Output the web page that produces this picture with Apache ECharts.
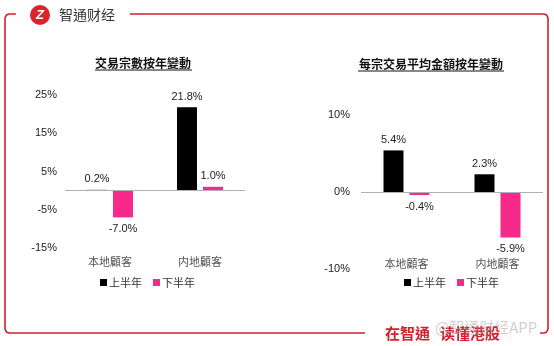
<!DOCTYPE html>
<html>
<head>
<meta charset="utf-8">
<script src="https://cdn.jsdelivr.net/npm/echarts@6/dist/echarts.min.js"></script>
<style>
  html, body { margin: 0; padding: 0; background: #fff; }
  #c { width: 554px; height: 346px; }
</style>
</head>
<body>
<div id="c"></div>
<script>
// Year-on-year change, first half vs second half
const categories = ['本地顧客', '内地顧客'];
const seriesNames = ['上半年', '下半年'];

// 交易宗數按年變動 (%)
const countFirstHalf = [0.2, 21.8];
const countSecondHalf = [-7.0, 1.0];
const countAxis = { min: -15, max: 25, interval: 10 };

// 每宗交易平均金額按年變動 (%)
const avgFirstHalf = [5.4, 2.3];
const avgSecondHalf = [-0.4, -5.9];
const avgAxis = { min: -10, max: 10, interval: 10 };

const chartTitles = ['交易宗數按年變動', '每宗交易平均金額按年變動'];

const BLACK = '#000000';
const PINK = '#f72a8c';
const RED = '#d2202e';
const LATIN = '"Liberation Sans", Arial, sans-serif';
const CJK = '"Noto Sans CJK TC", "Noto Sans CJK SC", sans-serif';

function barData(values) {
  return values.map(v => ({
    value: v,
    label: { position: v < 0 ? 'bottom' : 'top', distance: v < 0 ? 6 : 5 }
  }));
}

function barSeries(name, values, color, idx, withZeroLine) {
  const s = {
    name: name,
    type: 'bar',
    xAxisIndex: idx,
    yAxisIndex: idx,
    data: barData(values),
    barWidth: 20,
    barGap: '30%',
    itemStyle: { color: color },
    label: {
      show: true,
      color: '#222',
      fontFamily: LATIN,
      fontSize: 11,
      formatter: p => p.value.toFixed(1) + '%'
    },
    emphasis: { disabled: true },
    animation: false
  };
  if (withZeroLine) {
    s.markLine = {
      silent: true,
      symbol: 'none',
      label: { show: false },
      lineStyle: { color: '#b0b0b0', width: 1, type: 'solid' },
      data: [{ yAxis: 0 }],
      animation: false
    };
  }
  return s;
}

function yAxisFor(idx, range, margin) {
  return {
    type: 'value',
    gridIndex: idx,
    min: range.min,
    max: range.max,
    interval: range.interval,
    axisLine: { show: false },
    axisTick: { show: false },
    splitLine: { show: false },
    axisLabel: {
      margin: margin,
      color: '#222',
      fontFamily: LATIN,
      fontSize: 11,
      formatter: v => v + '%'
    }
  };
}

function xAxisFor(idx, labelMargin) {
  return {
    type: 'category',
    gridIndex: idx,
    data: categories,
    axisLine: { show: false, onZero: false },
    axisTick: { show: false },
    axisLabel: {
      margin: labelMargin,
      color: '#555',
      fontFamily: CJK,
      fontSize: 11
    }
  };
}

function legendFor(left) {
  return {
    data: seriesNames,
    left: left,
    top: 272,
    icon: 'rect',
    itemWidth: 7,
    itemHeight: 7,
    itemGap: 11,
    selectedMode: false,
    textStyle: { fontFamily: CJK, fontSize: 11, color: '#333', padding: [0, 0, 0, -3] }
  };
}

const chart = echarts.init(document.getElementById('c'), null, { renderer: 'canvas' });

const frameStyle = { stroke: RED, lineWidth: 1.6, fill: null };

chart.setOption({
  backgroundColor: '#ffffff',
  animation: false,
  grid: [
    { left: 65, top: 95, width: 180, height: 153 },
    { left: 361, top: 115, width: 182, height: 154 }
  ],
  xAxis: [xAxisFor(0, 8), xAxisFor(1, -11)],
  yAxis: [yAxisFor(0, countAxis, 8), yAxisFor(1, avgAxis, 11)],
  legend: [legendFor(95), legendFor(399)],
  series: [
    barSeries(seriesNames[0], countFirstHalf, BLACK, 0, true),
    barSeries(seriesNames[1], countSecondHalf, PINK, 0, false),
    barSeries(seriesNames[0], avgFirstHalf, BLACK, 1, true),
    barSeries(seriesNames[1], avgSecondHalf, PINK, 1, false)
  ],
  graphic: [
    // frame: left stub of the top edge, left side, bottom edge
    {
      type: 'polyline',
      shape: { points: [[16, 14], [9, 14], [6.5, 15], [5, 18], [5, 329], [6.5, 332], [9, 333], [365, 333]] },
      style: frameStyle
    },
    // frame: top edge and right side
    {
      type: 'polyline',
      shape: { points: [[130, 14], [544, 14], [546.5, 15], [548, 18], [548, 329], [546.5, 332], [544, 333], [540, 333]] },
      style: frameStyle
    },
    // brand mark
    {
      type: 'circle',
      shape: { cx: 40, cy: 15, r: 10 },
      style: { fill: '#d9232d' }
    },
    {
      type: 'text',
      x: 40, y: 15,
      style: {
        text: 'Z',
        fill: '#fff',
        font: 'italic bold 13px ' + LATIN,
        align: 'center',
        verticalAlign: 'middle'
      }
    },
    {
      type: 'text',
      x: 59, y: 15,
      style: {
        text: '智通财经',
        fill: '#333',
        font: '14px ' + CJK,
        verticalAlign: 'middle'
      }
    },
    // chart headings with underline
    {
      type: 'text', x: 143, y: 63,
      style: { text: chartTitles[0], fill: '#111', font: 'bold 12px ' + CJK, align: 'center', verticalAlign: 'middle' }
    },
    {
      type: 'line',
      shape: { x1: 95, y1: 70, x2: 192, y2: 70 },
      style: { stroke: '#111', lineWidth: 1 }
    },
    {
      type: 'text', x: 431, y: 64,
      style: { text: chartTitles[1], fill: '#111', font: 'bold 12px ' + CJK, align: 'center', verticalAlign: 'middle' }
    },
    {
      type: 'line',
      shape: { x1: 358, y1: 71, x2: 504, y2: 71 },
      style: { stroke: '#111', lineWidth: 1 }
    },
    // footer slogan and app watermark
    {
      type: 'text', x: 385, y: 333,
      style: { text: '在智通', fill: '#d2202e', font: 'bold 15px ' + CJK, verticalAlign: 'middle' }
    },
    {
      type: 'text', x: 440, y: 333,
      style: { text: '读懂港股', fill: '#d2202e', font: 'bold 15px ' + CJK, verticalAlign: 'middle' }
    },
    {
      type: 'text', x: 435, y: 327,
      style: { text: '@智通财经APP', fill: 'rgba(170,170,170,0.55)', font: '15px ' + CJK, verticalAlign: 'middle' }
    }
  ]
});
</script>
</body>
</html>
